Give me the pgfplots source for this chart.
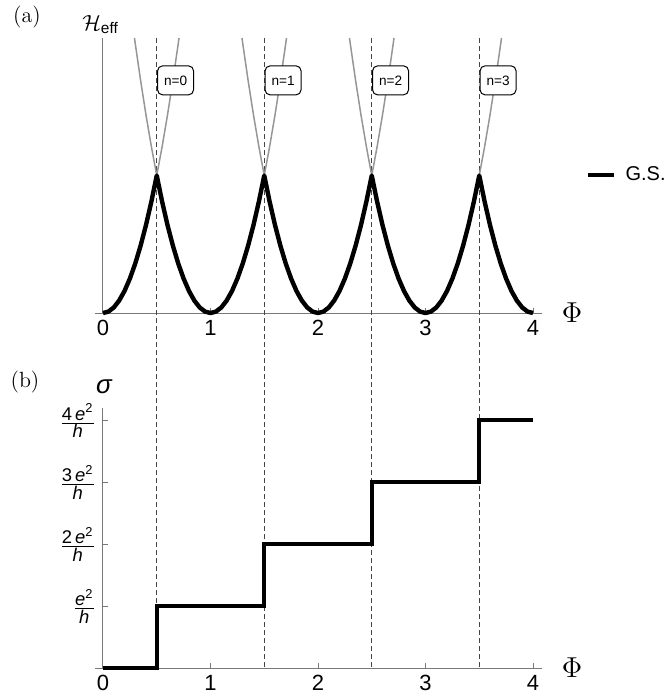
\documentclass[border=0pt]{standalone}
\usepackage{amsmath}
\usepackage{fontspec}
\usepackage{pgfplots}
\pgfplotsset{compat=1.18}
\newfontfamily\lsans{Liberation Sans}
\definecolor{axisgray}{RGB}{120,120,120}
\definecolor{parab}{RGB}{150,150,150}
\definecolor{dashc}{RGB}{70,70,70}
\pgfplotsset{
  common/.style={
    axis lines=middle,
    x=53.75pt,
    xmin=-0.07, xmax=4.084,
    ymin=0,
    clip=false,
    axis line style={-, draw=axisgray, line width=0.5pt},
    tick style={draw=axisgray, line width=0.5pt},
    tick align=inside,
    major tick length=2.5pt,
    xtick={0,1,2,3,4},
    hide obscured x ticks=false,
    hide obscured y ticks=false,
    xticklabel style={font=\lsans\fontsize{11}{12}\selectfont},
    /pgf/number format/assume math mode=true,
    xlabel={$\Phi$},
    xlabel style={at={(axis description cs:1.0672,0)}, anchor=center, inner sep=0pt, font=\fontsize{14}{16}\selectfont},
  }
}
\begin{document}
\begin{tikzpicture}
\useasboundingbox (-51.5pt,-192.5pt) rectangle (280.5pt,156.5pt);
% ---------------- (a) ----------------
\begin{axis}[common,
  at={(0,0)}, anchor=origin,
  y=275pt, ymax=0.5,
  ytick=\empty,
  ylabel={$\mathcal{H}_{\text{\lsans eff}}$},
  ylabel style={at={(axis description cs:-0.030,1.029)}, anchor=base west, inner sep=0pt, rotate=0, font=\fontsize{11}{13}\selectfont},
  legend style={draw=none, fill=none, at={(axis description cs:1.098,0.502)}, anchor=west, inner sep=0pt, font=\lsans\fontsize{10}{12}\selectfont},
  legend cell align=left,
  legend image code/.code={\draw[line width=2.2pt] (0pt,0pt) -- (13pt,0pt);},
]
% dashed guide lines (run down to the lower panel)
\addplot[forget plot, dashc, line width=0.6pt, dash pattern=on 2.5pt off 1.5pt] coordinates {(0.5,0.5) (0.5,-0.6455)};
\addplot[forget plot, dashc, line width=0.6pt, dash pattern=on 2.5pt off 1.5pt] coordinates {(1.5,0.5) (1.5,-0.6455)};
\addplot[forget plot, dashc, line width=0.6pt, dash pattern=on 2.5pt off 1.5pt] coordinates {(2.5,0.5) (2.5,-0.6455)};
\addplot[forget plot, dashc, line width=0.6pt, dash pattern=on 2.5pt off 1.5pt] coordinates {(3.5,0.5) (3.5,-0.6455)};
% gray parabolas n=0..3
\addplot[forget plot, parab, line width=0.75pt] coordinates {
(0,0) (0.05,0.0025) (0.1,0.01) (0.15,0.0225) (0.2,0.04) (0.25,0.0625) (0.3,0.09) (0.35,0.1225) (0.4,0.16) (0.45,0.2025) (0.5,0.25) (0.55,0.3025) (0.6,0.36) (0.65,0.4225) (0.7,0.49) (0.7071,0.5)};
\addplot[forget plot, parab, line width=0.75pt] coordinates {
(0.2929,0.5) (0.3,0.49) (0.35,0.4225) (0.4,0.36) (0.45,0.3025) (0.5,0.25) (0.55,0.2025) (0.6,0.16) (0.65,0.1225) (0.7,0.09) (0.75,0.0625) (0.8,0.04) (0.85,0.0225) (0.9,0.01) (0.95,0.0025) (1,0)
(1.05,0.0025) (1.1,0.01) (1.15,0.0225) (1.2,0.04) (1.25,0.0625) (1.3,0.09) (1.35,0.1225) (1.4,0.16) (1.45,0.2025) (1.5,0.25) (1.55,0.3025) (1.6,0.36) (1.65,0.4225) (1.7,0.49) (1.7071,0.5)};
\addplot[forget plot, parab, line width=0.75pt] coordinates {
(1.2929,0.5) (1.3,0.49) (1.35,0.4225) (1.4,0.36) (1.45,0.3025) (1.5,0.25) (1.55,0.2025) (1.6,0.16) (1.65,0.1225) (1.7,0.09) (1.75,0.0625) (1.8,0.04) (1.85,0.0225) (1.9,0.01) (1.95,0.0025) (2,0)
(2.05,0.0025) (2.1,0.01) (2.15,0.0225) (2.2,0.04) (2.25,0.0625) (2.3,0.09) (2.35,0.1225) (2.4,0.16) (2.45,0.2025) (2.5,0.25) (2.55,0.3025) (2.6,0.36) (2.65,0.4225) (2.7,0.49) (2.7071,0.5)};
\addplot[forget plot, parab, line width=0.75pt] coordinates {
(2.2929,0.5) (2.3,0.49) (2.35,0.4225) (2.4,0.36) (2.45,0.3025) (2.5,0.25) (2.55,0.2025) (2.6,0.16) (2.65,0.1225) (2.7,0.09) (2.75,0.0625) (2.8,0.04) (2.85,0.0225) (2.9,0.01) (2.95,0.0025) (3,0)
(3.05,0.0025) (3.1,0.01) (3.15,0.0225) (3.2,0.04) (3.25,0.0625) (3.3,0.09) (3.35,0.1225) (3.4,0.16) (3.45,0.2025) (3.5,0.25) (3.55,0.3025) (3.6,0.36) (3.65,0.4225) (3.7,0.49) (3.7071,0.5)};
% ground state
\addplot[black, line width=2.2pt, line join=round] coordinates {
(0,0) (0.05,0.0025) (0.1,0.01) (0.15,0.0225) (0.2,0.04) (0.25,0.0625) (0.3,0.09) (0.35,0.1225) (0.4,0.16) (0.45,0.2025) (0.5,0.25) (0.55,0.2025) (0.6,0.16) (0.65,0.1225) (0.7,0.09) (0.75,0.0625) (0.8,0.04) (0.85,0.0225) (0.9,0.01) (0.95,0.0025) (1,0)
(1.05,0.0025) (1.1,0.01) (1.15,0.0225) (1.2,0.04) (1.25,0.0625) (1.3,0.09) (1.35,0.1225) (1.4,0.16) (1.45,0.2025) (1.5,0.25) (1.55,0.2025) (1.6,0.16) (1.65,0.1225) (1.7,0.09) (1.75,0.0625) (1.8,0.04) (1.85,0.0225) (1.9,0.01) (1.95,0.0025) (2,0)
(2.05,0.0025) (2.1,0.01) (2.15,0.0225) (2.2,0.04) (2.25,0.0625) (2.3,0.09) (2.35,0.1225) (2.4,0.16) (2.45,0.2025) (2.5,0.25) (2.55,0.2025) (2.6,0.16) (2.65,0.1225) (2.7,0.09) (2.75,0.0625) (2.8,0.04) (2.85,0.0225) (2.9,0.01) (2.95,0.0025) (3,0)
(3.05,0.0025) (3.1,0.01) (3.15,0.0225) (3.2,0.04) (3.25,0.0625) (3.3,0.09) (3.35,0.1225) (3.4,0.16) (3.45,0.2025) (3.5,0.25) (3.55,0.2025) (3.6,0.16) (3.65,0.1225) (3.7,0.09) (3.75,0.0625) (3.8,0.04) (3.85,0.0225) (3.9,0.01) (3.95,0.0025) (4,0)};
\addlegendentry{\hspace{2.5pt}G.S.}
% labels
\foreach \n in {0,1,2,3} {
  \edef\tmp{\noexpand\node[draw=black, line width=0.5pt, fill=white, rounded corners=2.5pt, minimum width=18pt, minimum height=14.5pt, inner sep=0pt, font=\noexpand\lsans\noexpand\fontsize{6.8}{8}\noexpand\selectfont] at (axis cs:\n.675,0.423) {n=\n};}
  \tmp
}
\end{axis}
% ---------------- (b) ----------------
\begin{axis}[common,
  at={(0,-177.5pt)}, anchor=origin,
  y=30.95pt, ymax=4.2,
  ytick={1,2,3,4},
  yticklabels={
    {$\frac{\mbox{\textit{e}\textsuperscript{2}}}{\mbox{\textit{h}}}$},
    {$\frac{\mbox{2\,\textit{e}\textsuperscript{2}}}{\mbox{\textit{h}}}$},
    {$\frac{\mbox{3\,\textit{e}\textsuperscript{2}}}{\mbox{\textit{h}}}$},
    {$\frac{\mbox{4\,\textit{e}\textsuperscript{2}}}{\mbox{\textit{h}}}$}},
  yticklabel style={font=\lsans\fontsize{9.2}{10}\selectfont},
  ylabel={\lsans\itshape σ},
  ylabel style={at={(axis description cs:0.019,1.081)}, anchor=center, inner sep=0pt, rotate=0, font=\fontsize{13}{15}\selectfont},
]
\addplot[black, line width=2pt, line join=miter] coordinates {
(0,0) (0.5,0) (0.5,1) (1.5,1) (1.5,2) (2.5,2) (2.5,3) (3.5,3) (3.5,4) (4,4)};
\end{axis}
\node[font=\fontsize{11}{13}\selectfont] at (-38pt,147.75pt) {(a)};
\node[font=\fontsize{11}{13}\selectfont] at (-39pt,-34.5pt) {(b)};
\end{tikzpicture}
\end{document}
